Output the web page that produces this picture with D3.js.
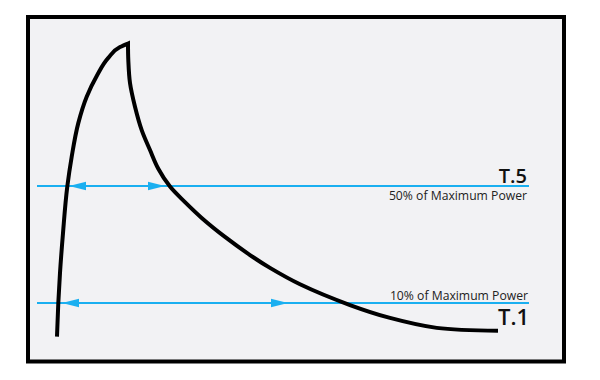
<!DOCTYPE html>
<html>
<head>
<meta charset="utf-8">
<script src="https://cdn.jsdelivr.net/npm/d3@7"></script>
<style>
  html, body { margin: 0; padding: 0; background: #ffffff; }
  svg { display: block; }
</style>
</head>
<body>
<svg id="chart" width="600" height="380"></svg>
<script>
// ---- data ----
const riseTime   = [0, 1.3, 3, 6, 10.3, 14.7, 21.3, 29.7, 40, 51.3, 63, 71];
const risePower  = [-1.5, 10.0, 20.3, 33.9, 49.8, 60.0, 71.5, 80.5, 87.8, 93.8, 97.5, 98.7];
const decayTime  = [71, 71.3, 73, 78, 84.7, 93, 101.3, 113, 128, 144.7, 168, 193, 213, 243, 293, 333, 379.7, 441];
const decayPower = [98.7, 93.1, 85.2, 77.1, 69.1, 62.3, 55.9, 49.8, 44.5, 39.1, 32.6, 26.4, 22.0, 16.4, 9.3, 4.9, 1.5, 0.5];

const thresholdNames  = ["T.5", "T.1"];
const thresholdLevels = [50, 10];
const thresholdTexts  = ["50% of Maximum Power", "10% of Maximum Power"];
const arrowStart      = [12, 5];
const arrowEnd        = [108, 231];
const lineExtent      = [-20, 472];

// ---- scales ----
const x = d3.scaleLinear().domain([0, 441]).range([57, 498]);
const y = d3.scaleLinear().domain([0, 100]).range([332.25, 39.75]);

const svg = d3.select("#chart");
const blue = "#1aaff0";

// frame
svg.append("rect")
  .attr("x", 28).attr("y", 17).attr("width", 536).attr("height", 344.5)
  .attr("fill", "#f2f2f4").attr("stroke", "#000").attr("stroke-width", 4);

// threshold lines
const thr = thresholdLevels.map((v, i) => ({
  name: thresholdNames[i], level: v, text: thresholdTexts[i],
  a0: arrowStart[i], a1: arrowEnd[i]
}));

svg.selectAll("line.thr").data(thr).enter().append("line")
  .attr("class", "thr")
  .attr("x1", x(lineExtent[0])).attr("x2", x(lineExtent[1]))
  .attr("y1", d => y(d.level)).attr("y2", d => y(d.level))
  .attr("stroke", blue).attr("stroke-width", 2);

// arrowheads
const headLen = 17, headHalf = 4.2;
thr.forEach(d => {
  const yy = y(d.level);
  const xl = x(d.a0), xr = x(d.a1);
  svg.append("path")
    .attr("d", `M${xl},${yy} L${xl + headLen},${yy - headHalf} L${xl + headLen},${yy + headHalf} Z`)
    .attr("fill", blue);
  svg.append("path")
    .attr("d", `M${xr},${yy} L${xr - headLen},${yy - headHalf} L${xr - headLen},${yy + headHalf} Z`)
    .attr("fill", blue);
});

// curve
const rise = riseTime.map((t, i) => [t, risePower[i]]);
const decay = decayTime.map((t, i) => [t, decayPower[i]]);
const genRise = d3.line().x(d => x(d[0])).y(d => y(d[1])).curve(d3.curveMonotoneY);
const genDecay = d3.line().x(d => x(d[0])).y(d => y(d[1])).curve(d3.curveCatmullRom.alpha(0.5));
const dPath = genRise(rise) + genDecay(decay).replace(/^M/, "L");
svg.append("path")
  .attr("d", dPath)
  .attr("fill", "none").attr("stroke", "#000").attr("stroke-width", 4)
  .attr("stroke-linejoin", "miter").attr("stroke-linecap", "butt");

// labels
const font = "'Open Sans', 'Noto Sans', sans-serif";
const labelRight = 527;
// T.5: name above the line, text below
svg.append("text").text(thr[0].name)
  .attr("x", labelRight).attr("y", y(thr[0].level) - 3.5)
  .attr("text-anchor", "end").attr("font-family", font)
  .attr("font-weight", 600).attr("font-size", 20).attr("fill", "#111");
svg.append("text").text(thr[0].text)
  .attr("x", labelRight).attr("y", y(thr[0].level) + 13.5)
  .attr("text-anchor", "end").attr("font-family", font)
  .attr("font-size", 12.2).attr("fill", "#222");
// T.1: text above the line, name below
svg.append("text").text(thr[1].text)
  .attr("x", labelRight + 1).attr("y", y(thr[1].level) - 3.5)
  .attr("text-anchor", "end").attr("font-family", font)
  .attr("font-size", 12.2).attr("fill", "#222");
svg.append("text").text(thr[1].name)
  .attr("x", labelRight + 2).attr("y", y(thr[1].level) + 22)
  .attr("text-anchor", "end").attr("font-family", font)
  .attr("font-weight", 600).attr("font-size", 22).attr("fill", "#111");
</script>
</body>
</html>
